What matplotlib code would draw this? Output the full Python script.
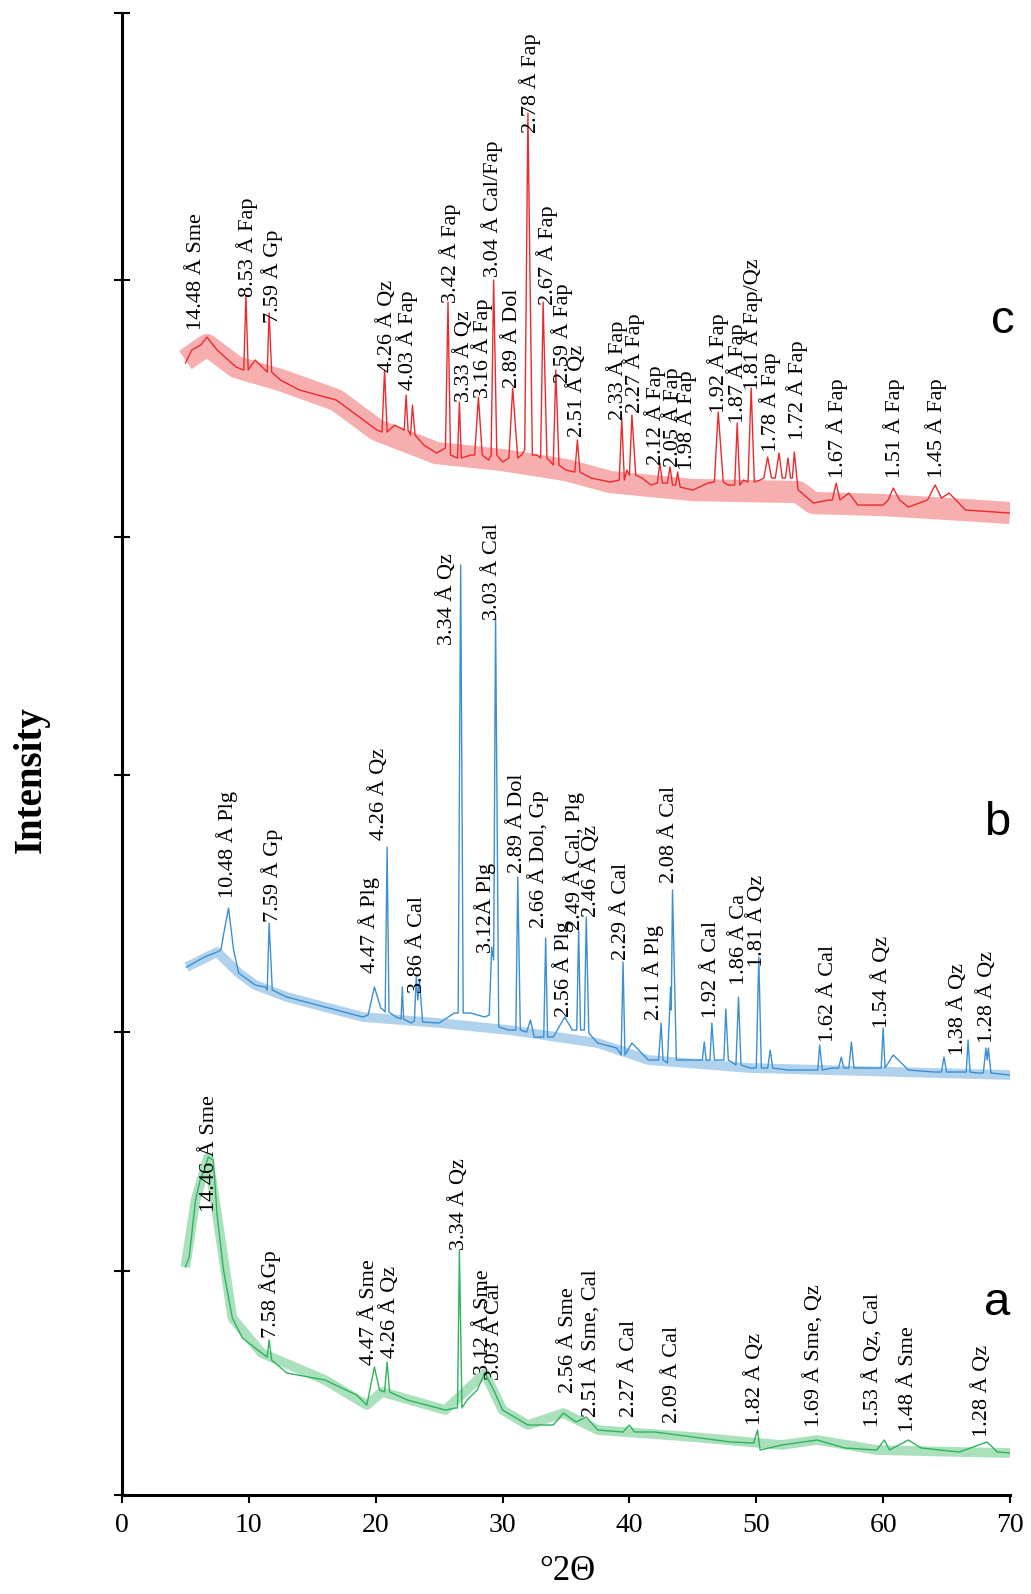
import matplotlib
matplotlib.use('Agg')
import matplotlib.pyplot as plt

# --- data (x in deg 2theta, y in arbitrary intensity units) ---
red_x = [5.0, 5.5, 6.2, 6.7, 7.5, 9.0, 9.6, 9.77, 9.95, 10.5, 11.3, 11.45, 11.6, 11.8, 12.5,
         14.0, 16.9, 18.5, 20.1, 20.5, 20.7, 20.9, 21.5, 22.25, 22.4, 22.55, 22.75, 22.9, 23.1,
         23.8, 24.8, 25.5, 25.7, 25.9, 26.45, 26.6, 26.75, 27.5, 27.8, 28.1, 28.4, 28.9, 29.1,
         29.3, 29.55, 30.0, 30.5, 30.8, 31.2, 31.5, 31.75, 32.0, 32.35, 32.7, 33.0, 33.2, 33.5,
         33.8, 34.0, 34.2, 34.45, 35.0, 35.7, 35.9, 36.1, 37.0, 38.5, 39.2, 39.4, 39.6, 39.8,
         40.0, 40.2, 40.5, 41.0, 41.7, 42.2, 42.4, 42.6, 43.0, 43.2, 43.4, 43.65, 43.8, 44.0,
         45.0, 46.2, 46.7, 47.0, 47.4, 47.8, 48.3, 48.5, 48.7, 49.0, 49.35, 49.6, 49.85, 50.3,
         50.6, 50.9, 51.2, 51.5, 51.8, 52.05, 52.3, 52.5, 52.7, 52.85, 53.0, 53.3, 53.6, 54.5,
         55.7, 56.0, 56.3, 56.6, 57.3, 58.0, 60.0, 60.4, 60.8, 61.3, 62.0, 63.5, 64.1, 64.6,
         65.2, 66.5, 70.0]
red_y = [1132, 1145, 1150, 1158, 1145, 1128, 1125, 1200, 1125, 1135, 1125, 1123, 1182, 1123, 1115,
         1105, 1095, 1080, 1065, 1063, 1125, 1063, 1070, 1065, 1100, 1065, 1060, 1090, 1060,
         1050, 1042, 1047, 1193, 1040, 1037, 1093, 1037, 1040, 1040, 1098, 1040, 1035, 1040,
         1215, 1040, 1033, 1037, 1107, 1037, 1040, 1045, 1382, 1040, 1040, 1037, 1193, 1037,
         1033, 1030, 1125, 1030, 1025, 1023, 1055, 1023, 1017, 1013, 1015, 1077, 1015, 1025,
         1020, 1080, 1020, 1017, 1010, 1012, 1032, 1012, 1012, 1028, 1010, 1010, 1023, 1008,
         1005, 1012, 1013, 1083, 1013, 1010, 1010, 1072, 1010, 1015, 1013, 1107, 1013, 1015,
         1017, 1038, 1017, 1017, 1042, 1017, 1017, 1037, 1017, 1017, 1043, 1005, 1002, 992,
         995, 995, 1012, 995, 1002, 990, 990, 995, 1007, 995, 988, 995, 1010, 997,
         1002, 985, 982]

blue_x = [5.1, 6.5, 7.5, 7.8, 8.0, 8.4, 8.8, 9.2, 10.5, 11.3, 11.45, 11.6, 11.85, 13.0, 16.0,
          19.0, 19.4, 19.9, 20.4, 20.6, 20.75, 20.9, 21.05, 21.6, 22.0, 22.1, 22.2, 22.8, 23.05,
          23.2, 23.32, 23.45, 23.7, 25.0, 26.2, 26.5, 26.7, 26.9, 27.5, 28.6, 28.95, 29.15, 29.3,
          29.45, 29.7, 30.5, 31.05, 31.2, 31.4, 31.9, 32.2, 32.5, 33.25, 33.4, 33.55, 34.0, 34.9,
          35.5, 35.85, 36.0, 36.15, 36.3, 36.45, 36.6, 36.8, 37.5, 39.0, 39.35, 39.5, 39.65, 40.2,
          41.5, 42.3, 42.5, 42.65, 43.0, 43.25, 43.3, 43.4, 43.7, 45.0, 45.75, 45.9, 46.05, 46.35,
          46.5, 46.7, 47.0, 47.45, 47.6, 47.8, 48.4, 48.6, 48.8, 49.5, 50.0, 50.2, 50.4, 50.9,
          51.1, 51.3, 52.5, 54.5, 54.85, 55.0, 55.2, 56.0, 56.5, 56.7, 56.9, 57.3, 57.5, 57.7,
          59.0, 59.85, 60.0, 60.15, 60.8, 62.0, 64.0, 64.6, 64.8, 65.0, 66.0, 66.55, 66.7, 66.85,
          67.5, 67.9, 68.1, 68.2, 68.3, 68.5, 70.0]
blue_y = [528, 538, 543, 545, 560, 587, 545, 522, 510, 508, 505, 572, 505, 498, 488,
          478, 480, 508, 487, 485, 483, 648, 483, 478, 476, 508, 476, 472, 474,
          518, 495, 515, 473, 472, 482, 482, 930, 482, 482, 478, 480, 548, 535,
          880, 468, 465, 465, 618, 465, 463, 475, 458, 458, 557, 458, 458, 478,
          465, 465, 565, 465, 465, 465, 578, 462, 452, 447, 440, 533, 440, 452,
          435, 435, 472, 435, 432, 508, 485, 605, 435, 435, 435, 453, 435, 435,
          472, 435, 435, 435, 486, 435, 430, 498, 430, 427, 427, 538, 427, 427,
          445, 427, 425, 425, 425, 450, 425, 427, 427, 438, 427, 427, 453, 427,
          427, 427, 467, 427, 440, 425, 423, 423, 438, 423, 423, 423, 455, 423,
          422, 422, 447, 435, 447, 422, 420]

green_x = [5.0, 5.3, 5.8, 6.2, 6.5, 6.8, 7.2, 7.5, 8.0, 8.7, 9.5, 11.0, 11.45, 11.6, 11.8,
           13.0, 16.0, 18.5, 19.3, 19.9, 20.3, 20.7, 20.9, 21.1, 22.5, 25.5, 26.3, 26.45, 26.6,
           26.8, 27.2, 28.0, 28.6, 29.3, 30.0, 32.0, 34.0, 34.8, 35.8, 36.6, 37.5, 39.5, 40.0,
           40.4, 42.0, 45.0, 48.0, 49.8, 50.1, 50.3, 52.0, 54.8, 57.0, 59.5, 60.1, 60.5, 62.0,
           63.0, 66.0, 68.2, 69.0, 70.0]
green_y = [228, 238, 295, 317, 325, 338, 335, 280, 225, 177, 157, 142, 138, 155, 135,
           122, 115, 100, 90, 128, 105, 103, 133, 103, 95, 85, 87, 87, 245,
           87, 95, 105, 122, 105, 85, 70, 70, 82, 73, 78, 65, 63, 70,
           63, 63, 58, 53, 52, 65, 45, 50, 55, 47, 45, 55, 45, 55,
           47, 43, 53, 43, 42]

# background level of each pattern (drawn as the noise band)
red_base_x = [5.0, 6.7, 9.0, 12.5, 16.9, 20.1, 24.8, 30.0, 35.0, 38.5, 45.0, 53.3, 54.5, 60.0, 66.5, 70.0]
red_base_y = [1135, 1150, 1128, 1115, 1095, 1065, 1042, 1035, 1025, 1013, 1005, 1003, 992, 990, 985, 982]
blue_base_x = [5.1, 7.5, 9.2, 10.5, 13.0, 19.0, 25.0, 30.5, 37.5, 41.5, 49.5, 70.0]
blue_base_y = [528, 543, 522, 510, 498, 478, 472, 465, 452, 435, 427, 420]
green_base_x = [5.0, 5.8, 6.8, 7.5, 8.7, 11.0, 16.0, 19.3, 20.5, 25.5, 28.6, 30.0, 32.0, 34.8,
                37.5, 45.0, 52.0, 54.8, 59.5, 66.0, 70.0]
green_base_y = [228, 295, 338, 280, 177, 142, 115, 90, 103, 85, 122, 85, 70, 82,
                65, 58, 50, 55, 45, 43, 42]

# peak labels: text, x, y of label foot
red_labels = [("14.48 Å Sme", 5.9, 1165), ("8.53 Å Fap", 9.85, 1198), ("7.59 Å Gp", 11.8, 1172),
              ("4.26 Å Qz", 20.9, 1123), ("4.03 Å Fap", 22.5, 1105), ("3.42 Å Fap", 25.9, 1192),
              ("3.33 Å Qz", 27.0, 1093), ("3.16 Å Fap", 28.4, 1097), ("3.04 Å Cal/Fap", 29.2, 1218),
              ("2.89 Å Dol", 30.8, 1107), ("2.78 Å Fap", 32.2, 1362), ("2.67 Å Fap", 33.5, 1190),
              ("2.59 Å Fap", 34.7, 1112), ("2.51 Å Qz", 35.9, 1058), ("2.33 Å Fap", 39.0, 1075),
              ("2.27 Å Fap", 40.4, 1082), ("2.12 Å Fap", 42.0, 1030), ("2.05 Å Fap", 43.4, 1028),
              ("1.98 Å Fap", 44.5, 1025), ("1.92 Å Fap", 47.0, 1082), ("1.87 Å Fap", 48.5, 1072),
              ("1.81 Å Fap/Qz", 49.7, 1105), ("1.78 Å Fap", 51.1, 1043), ("1.72 Å Fap", 53.2, 1055),
              ("1.67 Å Fap", 56.4, 1017), ("1.51 Å Fap", 60.9, 1017), ("1.45 Å Fap", 64.2, 1017)]
blue_labels = [("10.48 Å Plg", 8.3, 597), ("7.59 Å Gp", 11.8, 573), ("4.47 Å Plg", 19.5, 522),
               ("4.26 Å Qz", 20.3, 655), ("3.86 Å Cal", 23.3, 502), ("3.34 Å Qz", 25.6, 850),
               ("3.03 Å Cal", 29.2, 875), ("3.12Å Plg", 28.6, 542), ("2.89 Å Dol", 31.2, 622),
               ("2.66 Å Dol, Gp", 32.8, 567), ("2.56 Å Plg", 34.8, 478), ("2.49 Å Cal, Plg", 35.6, 565),
               ("2.46 Å Qz", 37.0, 578), ("2.29 Å Cal", 39.4, 535), ("2.11 Å Plg", 41.9, 475),
               ("2.08 Å Cal", 43.2, 612), ("1.92 Å Cal", 46.5, 477), ("1.86 Å Ca", 48.7, 510),
               ("1.81 Å Qz", 50.1, 528), ("1.62 Å Cal", 55.7, 453), ("1.54 Å Qz", 59.9, 467),
               ("1.38 Å Qz", 65.9, 440), ("1.28 Å Qz", 68.2, 452)]
green_labels = [("14.46 Å Sme", 6.9, 283), ("7.58 ÅGp", 11.7, 157), ("4.47 Å Sme", 19.5, 130),
                ("4.26 Å Qz", 21.1, 137), ("3.34 Å Qz", 26.6, 245), ("3.12 Å Sme", 28.5, 120),
                ("3.03 Å Cal", 29.4, 115), ("2.56 Å Sme", 35.2, 102), ("2.51 Å Sme, Cal", 37.0, 78),
                ("2.27 Å Cal", 40.0, 78), ("2.09 Å Cal", 43.4, 72), ("1.82 Å Qz", 49.9, 70),
                ("1.69 Å Sme, Qz", 54.6, 68), ("1.53 Å Qz, Cal", 59.2, 68), ("1.48 Å Sme", 62.0, 63),
                ("1.28 Å Qz", 67.8, 58)]

x_ticks = [0, 10, 20, 30, 40, 50, 60, 70]
y_ticks = [0, 224, 463, 720, 958, 1215, 1482]

red = '#ec2a2e'
blue = '#3b8fd2'
green = '#2fb35c'

fig = plt.figure(figsize=(10.31, 15.94), dpi=100)
ax = fig.add_axes([0.1183, 0.0621, 0.8613, 0.9297])

# noise band + trace
ax.plot(red_base_x, red_base_y, color=red, lw=16, alpha=0.38, solid_joinstyle='round', solid_capstyle='butt')
ax.plot(blue_base_x, blue_base_y, color=blue, lw=7, alpha=0.4, solid_joinstyle='round', solid_capstyle='butt')
ax.plot(green_base_x, green_base_y, color=green, lw=7, alpha=0.4, solid_joinstyle='round', solid_capstyle='butt')
ax.plot(red_x, red_y, color=red, lw=1.0)
ax.plot(blue_x, blue_y, color=blue, lw=1.0)
ax.plot(green_x, green_y, color=green, lw=1.0)

for labels in (red_labels, blue_labels, green_labels):
    for txt, xx, yy in labels:
        ax.text(xx, yy, txt, rotation=90, ha='center', va='bottom',
                family='Liberation Serif', fontsize=16, color='black')

# panel letters
ax.text(69.4, 1162, 'c', family='Liberation Sans', fontsize=34, ha='center', va='baseline')
ax.text(69.0, 660, 'b', family='Liberation Sans', fontsize=34, ha='center', va='baseline')
ax.text(69.0, 180, 'a', family='Liberation Sans', fontsize=34, ha='center', va='baseline')

ax.set_xlim(0, 70)
ax.set_ylim(0, 1482)
ax.set_xticks(x_ticks)
ax.set_xticklabels([str(v) for v in x_ticks], family='Liberation Serif', fontsize=20)
ax.set_yticks(y_ticks)
ax.set_yticklabels([])
ax.tick_params(axis='x', direction='out', length=6, width=1.5, pad=7)
ax.tick_params(axis='y', direction='inout', length=11, width=1.5)

for side in ('top', 'right'):
    ax.spines[side].set_visible(False)
ax.spines['left'].set_linewidth(2.2)
ax.spines['bottom'].set_linewidth(2.2)

fig.text(0.550, 0.0144, '°2Θ', family='Liberation Serif', fontsize=25, ha='center', va='center')
fig.text(0.030, 1 - 780 / 1594, 'Intensity', family='Liberation Serif', fontweight='bold',
         fontsize=28, rotation=90, ha='center', va='center')

fig.savefig('out.png', dpi=100)
